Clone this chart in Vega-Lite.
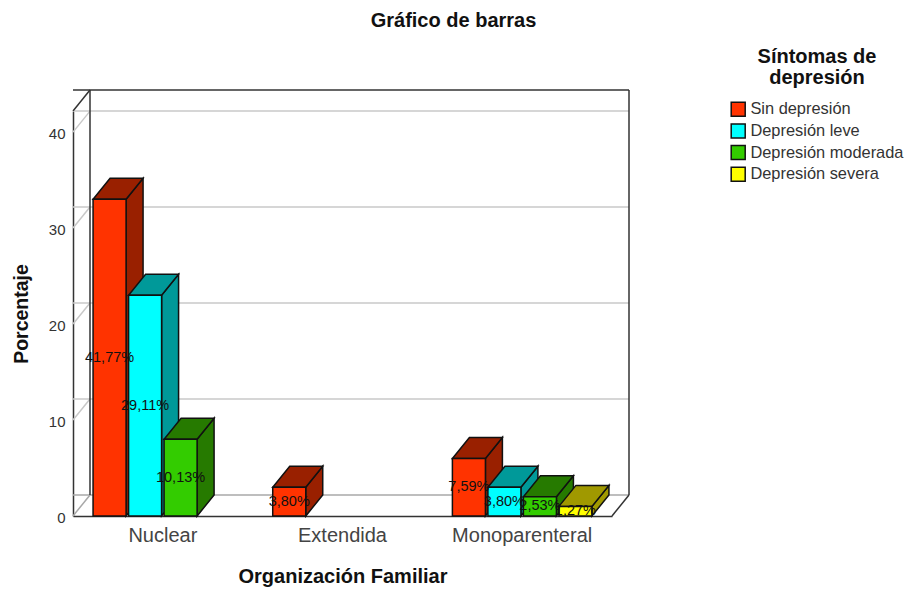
{
"$schema":"https://vega.github.io/schema/vega-lite/v6.json",
"autosize":{"type":"none"},
"width":539,"height":405,
"padding":{"left":73,"top":111,"right":295,"bottom":73},
"background":"white",
"title":{"text":"Gráfico de barras","font":"Liberation Sans","fontSize":20,"fontWeight":"bold","color":"#111","anchor":"middle","dx":111,"offset":16},
"config":{"view":{"stroke":null},"font":"Liberation Sans",
"axisX":{"titleFont":"Liberation Sans","titleFontSize":20,"titleFontWeight":"bold","titleColor":"#111","titlePadding":21,"labelFont":"Liberation Sans","labelFontSize":20,"labelColor":"#444","labelAngle":0,"labelPadding":9,"ticks":false,"domain":true,"domainColor":"#333","domainWidth":1.5,"grid":false},
"axisY":{"titleFont":"Liberation Sans","titleFontSize":19.5,"titleFontWeight":"bold","titleColor":"#111","titlePadding":17,"labelFont":"Liberation Sans","labelFontSize":15,"labelColor":"#333","labelPadding":8,"labelOffset":1,"ticks":false,"domain":true,"domainColor":"#333","domainWidth":1.5,"grid":false}},
"datasets":{
"bars":[
{"org":"Nuclear","sintoma":"Sin depresión","n":33,"pct":"41,77%"},
{"org":"Nuclear","sintoma":"Depresión leve","n":23,"pct":"29,11%"},
{"org":"Nuclear","sintoma":"Depresión moderada","n":8,"pct":"10,13%"},
{"org":"Extendida","sintoma":"Sin depresión","n":3,"pct":"3,80%"},
{"org":"Monoparenteral","sintoma":"Sin depresión","n":6,"pct":"7,59%"},
{"org":"Monoparenteral","sintoma":"Depresión leve","n":3,"pct":"3,80%"},
{"org":"Monoparenteral","sintoma":"Depresión moderada","n":2,"pct":"2,53%"},
{"org":"Monoparenteral","sintoma":"Depresión severa","n":1,"pct":"1,27%"}
],
"grid":[{"n":10},{"n":20},{"n":30},{"n":40}],
"floor":[{"n":0}],
"ceil":[{"n":42.2}],
"span":[{"n":0,"n2":42.2}]
},
"encoding":{"y":{"field":"n","type":"quantitative","title":"Porcentaje","scale":{"domain":[0,42.2],"nice":false},"axis":{"values":[0,10,20,30,40]}}},
"layer":[
{"data":{"name":"grid"},"mark":{"type":"rule","color":"#c8c8c8","strokeWidth":1.5,"xOffset":17,"x2Offset":17,"yOffset":-21}},
{"data":{"name":"floor"},"mark":{"type":"rule","color":"#a8a8a8","strokeWidth":1.5,"xOffset":17,"x2Offset":17,"yOffset":-21}},
{"data":{"name":"ceil"},"mark":{"type":"rule","color":"#333","strokeWidth":1.5,"xOffset":17,"x2Offset":17,"yOffset":-21}},
{"data":{"name":"grid"},"mark":{"type":"point","shape":"M0,0L17,-21","size":4,"opacity":1,"fill":"transparent","stroke":"#c8c8c8","strokeWidth":1.5},
 "encoding":{"x":{"datum":"Nuclear","type":"nominal","bandPosition":0,"title":"Organización Familiar","scale":{"domain":["Nuclear","Extendida","Monoparenteral"],"paddingInner":0,"paddingOuter":0}}}},
{"data":{"name":"floor"},"mark":{"type":"point","shape":"M0,0L17,-21","size":4,"opacity":1,"fill":"transparent","stroke":"#a8a8a8","strokeWidth":1.5},
 "encoding":{"x":{"datum":"Nuclear","type":"nominal","bandPosition":0,"title":"Organización Familiar","scale":{"domain":["Nuclear","Extendida","Monoparenteral"],"paddingInner":0,"paddingOuter":0}}}},
{"data":{"name":"floor"},"mark":{"type":"point","shape":"M0,0L17,-21","size":4,"opacity":1,"fill":"transparent","stroke":"#333","strokeWidth":1.5},
 "encoding":{"x":{"datum":"Monoparenteral","type":"nominal","bandPosition":1,"title":"Organización Familiar","scale":{"domain":["Nuclear","Extendida","Monoparenteral"],"paddingInner":0,"paddingOuter":0}}}},
{"data":{"name":"ceil"},"mark":{"type":"point","shape":"M0,0L17,-21","size":4,"opacity":1,"fill":"transparent","stroke":"#333","strokeWidth":1.5},
 "encoding":{"x":{"datum":"Nuclear","type":"nominal","bandPosition":0,"title":"Organización Familiar","scale":{"domain":["Nuclear","Extendida","Monoparenteral"],"paddingInner":0,"paddingOuter":0}}}},
{"data":{"name":"span"},"mark":{"type":"rule","color":"#333","strokeWidth":1.5,"xOffset":17,"yOffset":-21,"y2Offset":-21},
 "encoding":{"x":{"datum":"Nuclear","type":"nominal","bandPosition":0,"title":"Organización Familiar","scale":{"domain":["Nuclear","Extendida","Monoparenteral"],"paddingInner":0,"paddingOuter":0}},"y2":{"field":"n2"}}},
{"data":{"name":"span"},"mark":{"type":"rule","color":"#333","strokeWidth":1.5,"xOffset":17,"yOffset":-21,"y2Offset":-21},
 "encoding":{"x":{"datum":"Monoparenteral","type":"nominal","bandPosition":1,"title":"Organización Familiar","scale":{"domain":["Nuclear","Extendida","Monoparenteral"],"paddingInner":0,"paddingOuter":0}},"y2":{"field":"n2"}}},
{"data":{"name":"bars"},
 "encoding":{
  "x":{"field":"org","type":"nominal","sort":["Nuclear","Extendida","Monoparenteral"],"title":"Organización Familiar",
   "scale":{"domain":["Nuclear","Extendida","Monoparenteral"],"paddingInner":0,"paddingOuter":0}},
  "xOffset":{"field":"sintoma","type":"nominal","sort":["Sin depresión","Depresión leve","Depresión moderada","Depresión severa"],
   "scale":{"domain":["Sin depresión","Depresión leve","Depresión moderada","Depresión severa"],"paddingInner":0.07,"paddingOuter":0.565}}
 },
 "layer":[
  {"mark":{"type":"point","size":4,"opacity":1,"filled":true,"stroke":"#111","strokeWidth":1.5},
   "encoding":{
    "shape":{"field":"n","type":"nominal","legend":null,"scale":{"domain":[33,23,8,6,3,2,1],"range":[
     "M16.5,0L33.5,-21L33.5,295.7L16.5,316.7Z",
     "M16.5,0L33.5,-21L33.5,199.7L16.5,220.7Z",
     "M16.5,0L33.5,-21L33.5,55.8L16.5,76.8Z",
     "M16.5,0L33.5,-21L33.5,36.6L16.5,57.6Z",
     "M16.5,0L33.5,-21L33.5,7.8L16.5,28.8Z",
     "M16.5,0L33.5,-21L33.5,-1.8L16.5,19.2Z",
     "M16.5,0L33.5,-21L33.5,-11.4L16.5,9.6Z"]}},
    "fill":{"field":"sintoma","type":"nominal","legend":null,"scale":{"domain":["Depresión severa","Depresión moderada","Depresión leve","Sin depresión"],"range":["#a09900","#267a00","#009999","#992000"]}}}},
  {"mark":{"type":"point","shape":"M-16.5,0L16.5,0L33.5,-21L0.5,-21Z","size":4,"opacity":1,"filled":true,"stroke":"#111","strokeWidth":1.5},
   "encoding":{"fill":{"field":"sintoma","type":"nominal","legend":null}}},
  {"mark":{"type":"bar","stroke":"#111","strokeWidth":1.5},
   "encoding":{"color":{"field":"sintoma","type":"nominal",
     "scale":{"domain":["Sin depresión","Depresión leve","Depresión moderada","Depresión severa"],"range":["#ff3300","#00ffff","#33cc00","#ffff00"]},
     "legend":{"title":["Síntomas de","depresión"],"orient":"none","legendX":657,"legendY":-64,"titleFont":"Liberation Sans","titleFontSize":20,"titleFontWeight":"bold","titleColor":"#111","titleAnchor":"middle","titleAlign":"center","titleLineHeight":21,"titlePadding":13,"labelFont":"Liberation Sans","labelFontSize":16.4,"labelColor":"#333","symbolType":"square","symbolSize":196,"symbolStrokeColor":"#111","symbolStrokeWidth":1.5,"symbolOpacity":1,"rowPadding":0.7,"labelOffset":4}}}},
  {"transform":[{"calculate":"datum.n/2","as":"mid"}],
   "mark":{"type":"text","font":"Liberation Sans","fontSize":14.5,"color":"#111","align":"center","baseline":"middle"},
   "encoding":{"y":{"field":"mid","type":"quantitative","title":"Porcentaje","scale":{"domain":[0,42.2],"nice":false},"axis":{"values":[0,10,20,30,40]}},"text":{"field":"pct"}}}
 ]}
]
}
